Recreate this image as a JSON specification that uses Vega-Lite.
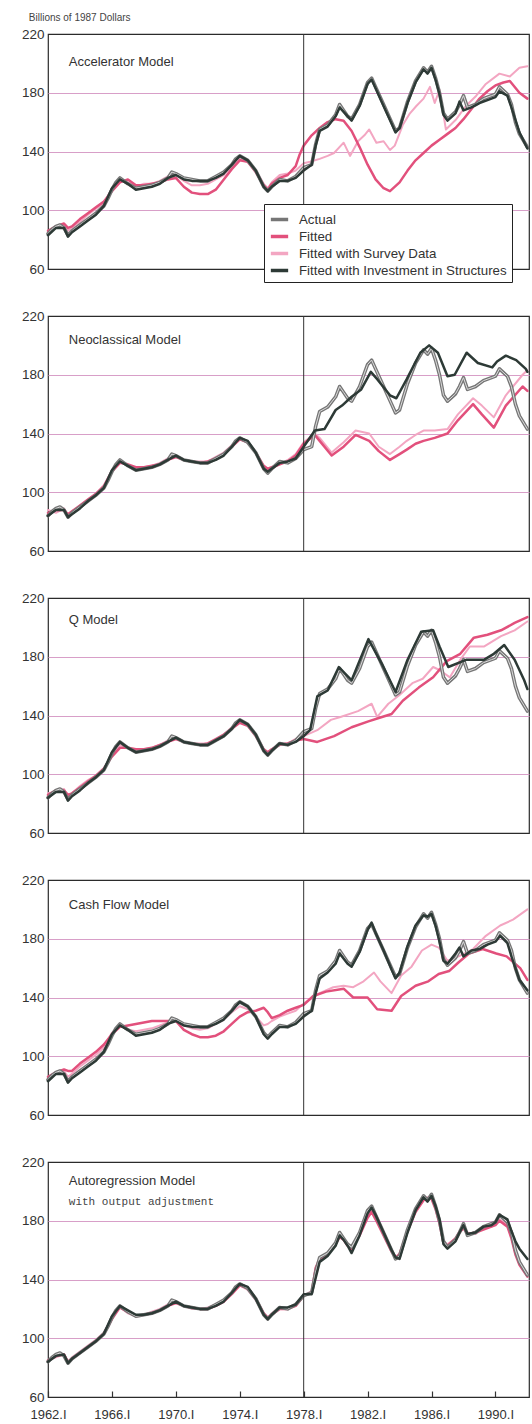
{
"$schema": "https://vega.github.io/schema/vega-lite/v6.json",
"padding": {"left": 20, "top": 12, "right": 0, "bottom": 0},
"background": "white",
"spacing": 47,
"bounds": "flush",
"config": {
 "font": "Liberation Sans",
 "view": {"stroke": "#2b2b2b", "strokeWidth": 1.2},
 "axisY": {"grid": true, "gridColor": "#d89fc8", "gridWidth": 1.2, "domain": false, "ticks": false, "labelFontSize": 13.5, "labelColor": "#333", "labelPadding": 4},
 "legend": {"orient": "none", "legendX": 216, "legendY": 170, "strokeColor": "#222", "fillColor": "white", "padding": 5, "symbolType": "stroke", "symbolSize": 300, "symbolStrokeWidth": 3.5, "labelFont": "Liberation Sans", "labelFontSize": 13.3, "labelColor": "#333", "labelLimit": 0, "rowPadding": 0, "labelOffset": 9},
 "line": {"strokeJoin": "round", "strokeCap": "round"}
},
"datasets": {
"a": [{"t":1962,"v":84},{"t":1962.25,"v":87},{"t":1962.5,"v":89},{"t":1962.75,"v":90},{"t":1963,"v":88},{"t":1963.25,"v":83},{"t":1963.5,"v":86},{"t":1964,"v":90},{"t":1964.5,"v":94},{"t":1965,"v":98},{"t":1965.5,"v":103},{"t":1965.75,"v":108},{"t":1966,"v":114},{"t":1966.25,"v":119},{"t":1966.5,"v":122},{"t":1966.75,"v":120},{"t":1967,"v":118},{"t":1967.5,"v":115},{"t":1968,"v":116},{"t":1968.5,"v":117},{"t":1969,"v":119},{"t":1969.5,"v":122},{"t":1969.75,"v":126},{"t":1970,"v":125},{"t":1970.5,"v":122},{"t":1971,"v":121},{"t":1971.5,"v":120},{"t":1972,"v":120},{"t":1972.5,"v":123},{"t":1973,"v":126},{"t":1973.5,"v":131},{"t":1973.75,"v":135},{"t":1974,"v":137},{"t":1974.5,"v":134},{"t":1975,"v":127},{"t":1975.5,"v":116},{"t":1975.75,"v":113},{"t":1976,"v":116},{"t":1976.5,"v":121},{"t":1977,"v":120},{"t":1977.5,"v":123},{"t":1978,"v":129},{"t":1978.5,"v":131},{"t":1978.75,"v":145},{"t":1979,"v":155},{"t":1979.5,"v":158},{"t":1980,"v":165},{"t":1980.25,"v":172},{"t":1980.5,"v":168},{"t":1980.75,"v":164},{"t":1981,"v":162},{"t":1981.5,"v":172},{"t":1982,"v":187},{"t":1982.25,"v":190},{"t":1982.5,"v":184},{"t":1983,"v":172},{"t":1983.5,"v":160},{"t":1983.75,"v":154},{"t":1984,"v":156},{"t":1984.5,"v":174},{"t":1985,"v":188},{"t":1985.5,"v":197},{"t":1985.75,"v":194},{"t":1986,"v":198},{"t":1986.25,"v":190},{"t":1986.5,"v":180},{"t":1986.75,"v":166},{"t":1987,"v":162},{"t":1987.5,"v":167},{"t":1987.75,"v":172},{"t":1988,"v":178},{"t":1988.25,"v":170},{"t":1988.75,"v":172},{"t":1989.25,"v":176},{"t":1989.75,"v":178},{"t":1990,"v":179},{"t":1990.25,"v":184},{"t":1990.75,"v":179},{"t":1991,"v":172},{"t":1991.25,"v":160},{"t":1991.5,"v":152},{"t":1992,"v":143}],
"f1": [{"t":1962,"v":86},{"t":1962.5,"v":89},{"t":1963,"v":91},{"t":1963.25,"v":88},{"t":1963.5,"v":89},{"t":1964,"v":94},{"t":1964.5,"v":98},{"t":1965,"v":102},{"t":1965.5,"v":106},{"t":1966,"v":113},{"t":1966.5,"v":119},{"t":1967,"v":121},{"t":1967.5,"v":117},{"t":1968,"v":117},{"t":1968.5,"v":118},{"t":1969,"v":119},{"t":1969.5,"v":121},{"t":1970,"v":122},{"t":1970.5,"v":116},{"t":1971,"v":112},{"t":1971.5,"v":111},{"t":1972,"v":111},{"t":1972.5,"v":114},{"t":1973,"v":121},{"t":1973.5,"v":128},{"t":1974,"v":134},{"t":1974.5,"v":133},{"t":1975,"v":126},{"t":1975.5,"v":117},{"t":1975.75,"v":114},{"t":1976,"v":118},{"t":1976.5,"v":122},{"t":1977,"v":124},{"t":1977.5,"v":130},{"t":1977.75,"v":138},{"t":1978,"v":144},{"t":1978.5,"v":151},{"t":1979,"v":156},{"t":1979.5,"v":160},{"t":1980,"v":162},{"t":1980.5,"v":161},{"t":1981,"v":154},{"t":1981.5,"v":143},{"t":1982,"v":131},{"t":1982.5,"v":121},{"t":1983,"v":115},{"t":1983.4,"v":113},{"t":1984,"v":119},{"t":1984.5,"v":127},{"t":1985,"v":134},{"t":1985.5,"v":139},{"t":1986,"v":144},{"t":1986.5,"v":148},{"t":1987,"v":152},{"t":1987.5,"v":156},{"t":1988,"v":162},{"t":1988.5,"v":169},{"t":1989,"v":176},{"t":1989.5,"v":181},{"t":1990,"v":185},{"t":1990.5,"v":187},{"t":1990.9,"v":188},{"t":1991.5,"v":180},{"t":1992,"v":176}],
"s1": [{"t":1962,"v":85},{"t":1962.5,"v":88},{"t":1963,"v":90},{"t":1963.25,"v":86},{"t":1963.5,"v":88},{"t":1964,"v":92},{"t":1964.5,"v":97},{"t":1965,"v":101},{"t":1965.5,"v":105},{"t":1966,"v":115},{"t":1966.5,"v":121},{"t":1967,"v":119},{"t":1967.5,"v":116},{"t":1968,"v":118},{"t":1968.5,"v":118},{"t":1969,"v":120},{"t":1969.5,"v":123},{"t":1970,"v":124},{"t":1970.5,"v":120},{"t":1971,"v":117},{"t":1971.5,"v":117},{"t":1972,"v":118},{"t":1972.5,"v":121},{"t":1973,"v":124},{"t":1973.5,"v":130},{"t":1974,"v":135},{"t":1974.5,"v":133},{"t":1975,"v":127},{"t":1975.5,"v":118},{"t":1975.75,"v":115},{"t":1976,"v":119},{"t":1976.5,"v":124},{"t":1977,"v":125},{"t":1977.5,"v":127},{"t":1978,"v":132},{"t":1978.4,"v":133},{"t":1979,"v":135},{"t":1979.5,"v":137},{"t":1979.9,"v":139},{"t":1980.5,"v":146},{"t":1980.9,"v":137},{"t":1981.4,"v":147},{"t":1981.8,"v":151},{"t":1982.1,"v":155},{"t":1982.55,"v":146},{"t":1983,"v":147},{"t":1983.4,"v":141},{"t":1983.7,"v":144},{"t":1984.2,"v":158},{"t":1984.65,"v":166},{"t":1985.05,"v":171},{"t":1985.5,"v":176},{"t":1985.9,"v":184},{"t":1986.2,"v":173},{"t":1986.5,"v":182},{"t":1986.9,"v":155},{"t":1987.55,"v":162},{"t":1988.15,"v":171},{"t":1988.8,"v":178},{"t":1989.4,"v":186},{"t":1990.25,"v":193},{"t":1990.9,"v":191},{"t":1991.5,"v":197},{"t":1992,"v":198}],
"i1": [{"t":1962,"v":83},{"t":1962.5,"v":88},{"t":1963,"v":88},{"t":1963.25,"v":82},{"t":1963.5,"v":85},{"t":1964,"v":89},{"t":1964.5,"v":93},{"t":1965,"v":97},{"t":1965.5,"v":103},{"t":1966,"v":115},{"t":1966.5,"v":121},{"t":1967,"v":118},{"t":1967.5,"v":114},{"t":1968,"v":115},{"t":1968.5,"v":116},{"t":1969,"v":118},{"t":1969.5,"v":122},{"t":1970,"v":124},{"t":1970.5,"v":121},{"t":1971,"v":120},{"t":1971.5,"v":120},{"t":1972,"v":120},{"t":1972.5,"v":122},{"t":1973,"v":125},{"t":1973.5,"v":131},{"t":1974,"v":137},{"t":1974.5,"v":134},{"t":1975,"v":127},{"t":1975.5,"v":116},{"t":1975.75,"v":113},{"t":1976,"v":116},{"t":1976.5,"v":120},{"t":1977,"v":120},{"t":1977.5,"v":122},{"t":1978,"v":127},{"t":1978.5,"v":131},{"t":1978.75,"v":144},{"t":1979,"v":154},{"t":1979.5,"v":157},{"t":1980,"v":164},{"t":1980.25,"v":170},{"t":1980.5,"v":167},{"t":1981,"v":161},{"t":1981.5,"v":171},{"t":1982,"v":186},{"t":1982.25,"v":189},{"t":1982.5,"v":183},{"t":1983,"v":171},{"t":1983.5,"v":159},{"t":1983.75,"v":153},{"t":1984,"v":156},{"t":1984.5,"v":173},{"t":1985,"v":187},{"t":1985.5,"v":196},{"t":1985.75,"v":193},{"t":1986,"v":197},{"t":1986.25,"v":189},{"t":1986.5,"v":179},{"t":1986.75,"v":165},{"t":1987,"v":161},{"t":1987.5,"v":166},{"t":1987.75,"v":174},{"t":1988,"v":168},{"t":1988.5,"v":170},{"t":1989,"v":173},{"t":1989.5,"v":175},{"t":1990,"v":177},{"t":1990.25,"v":181},{"t":1990.75,"v":178},{"t":1991,"v":170},{"t":1991.5,"v":153},{"t":1992,"v":142}],
"f2": [{"t":1962,"v":86},{"t":1962.5,"v":88},{"t":1963,"v":88},{"t":1963.25,"v":85},{"t":1963.5,"v":87},{"t":1964,"v":91},{"t":1964.5,"v":95},{"t":1965,"v":99},{"t":1965.5,"v":104},{"t":1966,"v":114},{"t":1966.5,"v":120},{"t":1967,"v":119},{"t":1967.5,"v":117},{"t":1968,"v":117},{"t":1968.5,"v":118},{"t":1969,"v":119},{"t":1969.5,"v":122},{"t":1970,"v":124},{"t":1970.5,"v":122},{"t":1971,"v":121},{"t":1971.5,"v":120},{"t":1972,"v":121},{"t":1972.5,"v":123},{"t":1973,"v":126},{"t":1973.5,"v":131},{"t":1974,"v":136},{"t":1974.5,"v":134},{"t":1975,"v":127},{"t":1975.5,"v":118},{"t":1975.75,"v":116},{"t":1976,"v":117},{"t":1976.5,"v":119},{"t":1977,"v":121},{"t":1977.5,"v":125},{"t":1978,"v":133},{"t":1978.7,"v":139},{"t":1979,"v":135},{"t":1979.75,"v":125},{"t":1980.5,"v":131},{"t":1981.25,"v":139},{"t":1982.1,"v":135},{"t":1982.7,"v":128},{"t":1983.4,"v":122},{"t":1984,"v":126},{"t":1984.45,"v":129},{"t":1985,"v":133},{"t":1985.5,"v":135},{"t":1986.2,"v":137},{"t":1987,"v":140},{"t":1987.65,"v":149},{"t":1988.6,"v":160},{"t":1989.15,"v":153},{"t":1989.9,"v":144},{"t":1990.65,"v":159},{"t":1991.7,"v":172},{"t":1992,"v":169}],
"s2": [{"t":1962,"v":88},{"t":1962.5,"v":86},{"t":1963,"v":89},{"t":1963.25,"v":84},{"t":1963.5,"v":86},{"t":1964,"v":91},{"t":1964.5,"v":95},{"t":1965,"v":99},{"t":1965.5,"v":105},{"t":1966,"v":115},{"t":1966.5,"v":121},{"t":1967,"v":118},{"t":1967.5,"v":116},{"t":1968,"v":117},{"t":1968.5,"v":118},{"t":1969,"v":120},{"t":1969.5,"v":123},{"t":1970,"v":125},{"t":1970.5,"v":122},{"t":1971,"v":121},{"t":1971.5,"v":121},{"t":1972,"v":121},{"t":1972.5,"v":124},{"t":1973,"v":127},{"t":1973.5,"v":132},{"t":1974,"v":137},{"t":1974.5,"v":134},{"t":1975,"v":127},{"t":1975.5,"v":117},{"t":1975.75,"v":115},{"t":1976,"v":116},{"t":1976.5,"v":119},{"t":1977,"v":122},{"t":1977.5,"v":126},{"t":1978,"v":134},{"t":1978.7,"v":140},{"t":1979,"v":137},{"t":1979.75,"v":127},{"t":1980.5,"v":134},{"t":1981.25,"v":142},{"t":1982.1,"v":140},{"t":1982.7,"v":131},{"t":1983.4,"v":126},{"t":1984,"v":131},{"t":1984.45,"v":135},{"t":1985,"v":139},{"t":1985.5,"v":142},{"t":1986.2,"v":142},{"t":1987,"v":143},{"t":1987.65,"v":153},{"t":1988.6,"v":164},{"t":1989.15,"v":159},{"t":1989.9,"v":151},{"t":1990.65,"v":166},{"t":1991.7,"v":180},{"t":1992,"v":183}],
"i2": [{"t":1962,"v":84},{"t":1962.5,"v":88},{"t":1963,"v":88},{"t":1963.25,"v":83},{"t":1963.5,"v":85},{"t":1964,"v":89},{"t":1964.5,"v":94},{"t":1965,"v":98},{"t":1965.5,"v":103},{"t":1966,"v":115},{"t":1966.5,"v":121},{"t":1967,"v":118},{"t":1967.5,"v":115},{"t":1968,"v":116},{"t":1968.5,"v":117},{"t":1969,"v":119},{"t":1969.5,"v":122},{"t":1970,"v":125},{"t":1970.5,"v":122},{"t":1971,"v":121},{"t":1971.5,"v":120},{"t":1972,"v":120},{"t":1972.5,"v":122},{"t":1973,"v":125},{"t":1973.5,"v":131},{"t":1974,"v":137},{"t":1974.5,"v":135},{"t":1975,"v":127},{"t":1975.5,"v":116},{"t":1975.75,"v":114},{"t":1976,"v":116},{"t":1976.5,"v":120},{"t":1977,"v":121},{"t":1977.5,"v":123},{"t":1978,"v":131},{"t":1978.7,"v":142},{"t":1979.3,"v":143},{"t":1980,"v":156},{"t":1980.4,"v":159},{"t":1981,"v":165},{"t":1981.6,"v":170},{"t":1982.2,"v":182},{"t":1982.6,"v":177},{"t":1983.4,"v":166},{"t":1983.8,"v":164},{"t":1984.45,"v":177},{"t":1985.3,"v":195},{"t":1985.85,"v":200},{"t":1986.4,"v":195},{"t":1987,"v":179},{"t":1987.45,"v":180},{"t":1988.2,"v":195},{"t":1988.9,"v":188},{"t":1989.8,"v":185},{"t":1990.1,"v":189},{"t":1990.65,"v":193},{"t":1991.3,"v":190},{"t":1991.9,"v":184},{"t":1992,"v":182}],
"f3": [{"t":1962,"v":86},{"t":1962.5,"v":89},{"t":1963,"v":89},{"t":1963.25,"v":86},{"t":1963.5,"v":87},{"t":1964,"v":91},{"t":1964.5,"v":95},{"t":1965,"v":99},{"t":1965.5,"v":104},{"t":1966,"v":112},{"t":1966.5,"v":118},{"t":1967,"v":118},{"t":1967.5,"v":117},{"t":1968,"v":117},{"t":1968.5,"v":118},{"t":1969,"v":120},{"t":1969.5,"v":122},{"t":1970,"v":124},{"t":1970.5,"v":122},{"t":1971,"v":121},{"t":1971.5,"v":120},{"t":1972,"v":121},{"t":1972.5,"v":124},{"t":1973,"v":127},{"t":1973.5,"v":131},{"t":1974,"v":135},{"t":1974.5,"v":133},{"t":1975,"v":126},{"t":1975.5,"v":117},{"t":1975.75,"v":115},{"t":1976,"v":117},{"t":1976.5,"v":120},{"t":1977,"v":121},{"t":1977.5,"v":123},{"t":1978,"v":124},{"t":1978.85,"v":122},{"t":1979.9,"v":126},{"t":1981,"v":132},{"t":1982.05,"v":136},{"t":1982.9,"v":139},{"t":1983.5,"v":141},{"t":1984.2,"v":150},{"t":1985.2,"v":159},{"t":1986.1,"v":166},{"t":1986.95,"v":177},{"t":1987.8,"v":182},{"t":1988.65,"v":193},{"t":1989.5,"v":195},{"t":1990.35,"v":198},{"t":1991.2,"v":203},{"t":1992,"v":207}],
"s3": [{"t":1962,"v":87},{"t":1962.5,"v":88},{"t":1963,"v":90},{"t":1963.25,"v":85},{"t":1963.5,"v":87},{"t":1964,"v":92},{"t":1964.5,"v":96},{"t":1965,"v":99},{"t":1965.5,"v":104},{"t":1966,"v":113},{"t":1966.5,"v":120},{"t":1967,"v":118},{"t":1967.5,"v":116},{"t":1968,"v":117},{"t":1968.5,"v":118},{"t":1969,"v":120},{"t":1969.5,"v":123},{"t":1970,"v":125},{"t":1970.5,"v":122},{"t":1971,"v":121},{"t":1971.5,"v":121},{"t":1972,"v":121},{"t":1972.5,"v":123},{"t":1973,"v":127},{"t":1973.5,"v":132},{"t":1974,"v":136},{"t":1974.5,"v":134},{"t":1975,"v":127},{"t":1975.5,"v":117},{"t":1975.75,"v":115},{"t":1976,"v":117},{"t":1976.5,"v":121},{"t":1977,"v":121},{"t":1977.5,"v":124},{"t":1978,"v":126},{"t":1978.85,"v":130},{"t":1979.7,"v":137},{"t":1980.3,"v":139},{"t":1981.4,"v":143},{"t":1982.25,"v":148},{"t":1982.6,"v":139},{"t":1983.3,"v":148},{"t":1984,"v":154},{"t":1984.8,"v":162},{"t":1985.45,"v":165},{"t":1986.1,"v":173},{"t":1986.5,"v":171},{"t":1987.15,"v":166},{"t":1987.8,"v":178},{"t":1988.4,"v":187},{"t":1989.3,"v":187},{"t":1990.35,"v":194},{"t":1991.2,"v":198},{"t":1992,"v":204}],
"i3": [{"t":1962,"v":84},{"t":1962.5,"v":88},{"t":1963,"v":88},{"t":1963.25,"v":82},{"t":1963.5,"v":85},{"t":1964,"v":89},{"t":1964.5,"v":94},{"t":1965,"v":98},{"t":1965.5,"v":103},{"t":1966,"v":115},{"t":1966.5,"v":122},{"t":1967,"v":118},{"t":1967.5,"v":115},{"t":1968,"v":116},{"t":1968.5,"v":117},{"t":1969,"v":119},{"t":1969.5,"v":122},{"t":1970,"v":125},{"t":1970.5,"v":122},{"t":1971,"v":121},{"t":1971.5,"v":120},{"t":1972,"v":120},{"t":1972.5,"v":123},{"t":1973,"v":126},{"t":1973.5,"v":131},{"t":1974,"v":137},{"t":1974.5,"v":134},{"t":1975,"v":127},{"t":1975.5,"v":116},{"t":1975.75,"v":113},{"t":1976,"v":116},{"t":1976.5,"v":121},{"t":1977,"v":120},{"t":1977.5,"v":122},{"t":1978,"v":126},{"t":1978.4,"v":130},{"t":1978.85,"v":153},{"t":1979.5,"v":157},{"t":1980.2,"v":173},{"t":1981,"v":164},{"t":1982.05,"v":192},{"t":1982.9,"v":175},{"t":1983.75,"v":156},{"t":1984.5,"v":178},{"t":1985.35,"v":197},{"t":1986.1,"v":198},{"t":1986.5,"v":187},{"t":1987.05,"v":173},{"t":1988.2,"v":178},{"t":1989.3,"v":178},{"t":1989.9,"v":182},{"t":1990.55,"v":188},{"t":1991.2,"v":178},{"t":1991.8,"v":164},{"t":1992,"v":158}],
"f4": [{"t":1962,"v":86},{"t":1962.5,"v":89},{"t":1963,"v":91},{"t":1963.25,"v":90},{"t":1963.5,"v":90},{"t":1964,"v":95},{"t":1964.5,"v":99},{"t":1965,"v":103},{"t":1965.5,"v":108},{"t":1966,"v":115},{"t":1966.5,"v":120},{"t":1967,"v":121},{"t":1967.5,"v":122},{"t":1968,"v":123},{"t":1968.5,"v":124},{"t":1969,"v":124},{"t":1969.5,"v":124},{"t":1970,"v":124},{"t":1970.5,"v":118},{"t":1971,"v":115},{"t":1971.5,"v":113},{"t":1972,"v":113},{"t":1972.5,"v":114},{"t":1973,"v":117},{"t":1973.5,"v":122},{"t":1974,"v":127},{"t":1974.5,"v":130},{"t":1975,"v":131},{"t":1975.5,"v":133},{"t":1975.75,"v":130},{"t":1976,"v":126},{"t":1976.5,"v":128},{"t":1977,"v":131},{"t":1977.5,"v":133},{"t":1978,"v":135},{"t":1978.6,"v":141},{"t":1979.4,"v":144},{"t":1980.5,"v":146},{"t":1981.1,"v":140},{"t":1982,"v":140},{"t":1982.6,"v":132},{"t":1983.5,"v":131},{"t":1984.1,"v":141},{"t":1985,"v":148},{"t":1985.8,"v":151},{"t":1986.45,"v":156},{"t":1987.1,"v":158},{"t":1987.7,"v":164},{"t":1988.35,"v":170},{"t":1989.2,"v":173},{"t":1990.05,"v":170},{"t":1990.7,"v":168},{"t":1991.55,"v":160},{"t":1992,"v":152}],
"s4": [{"t":1962,"v":85},{"t":1962.5,"v":88},{"t":1963,"v":90},{"t":1963.25,"v":86},{"t":1963.5,"v":88},{"t":1964,"v":93},{"t":1964.5,"v":97},{"t":1965,"v":101},{"t":1965.5,"v":106},{"t":1966,"v":116},{"t":1966.5,"v":121},{"t":1967,"v":118},{"t":1967.5,"v":117},{"t":1968,"v":118},{"t":1968.5,"v":119},{"t":1969,"v":121},{"t":1969.5,"v":123},{"t":1970,"v":125},{"t":1970.5,"v":121},{"t":1971,"v":119},{"t":1971.5,"v":118},{"t":1972,"v":119},{"t":1972.5,"v":122},{"t":1973,"v":125},{"t":1973.5,"v":130},{"t":1974,"v":134},{"t":1974.5,"v":132},{"t":1975,"v":127},{"t":1975.5,"v":121},{"t":1975.75,"v":122},{"t":1976,"v":124},{"t":1976.5,"v":127},{"t":1977,"v":129},{"t":1977.5,"v":131},{"t":1978,"v":136},{"t":1979,"v":143},{"t":1979.85,"v":147},{"t":1980.5,"v":148},{"t":1981.1,"v":147},{"t":1981.75,"v":151},{"t":1982.4,"v":157},{"t":1982.8,"v":151},{"t":1983.5,"v":143},{"t":1984.1,"v":155},{"t":1984.75,"v":161},{"t":1985.4,"v":172},{"t":1986,"v":176},{"t":1986.45,"v":174},{"t":1987,"v":165},{"t":1987.7,"v":168},{"t":1988.6,"v":173},{"t":1989.4,"v":182},{"t":1990.3,"v":189},{"t":1991.1,"v":193},{"t":1992,"v":200}],
"i4": [{"t":1962,"v":83},{"t":1962.5,"v":88},{"t":1963,"v":88},{"t":1963.25,"v":82},{"t":1963.5,"v":85},{"t":1964,"v":89},{"t":1964.5,"v":93},{"t":1965,"v":97},{"t":1965.5,"v":103},{"t":1966,"v":115},{"t":1966.5,"v":121},{"t":1967,"v":118},{"t":1967.5,"v":114},{"t":1968,"v":115},{"t":1968.5,"v":116},{"t":1969,"v":118},{"t":1969.5,"v":122},{"t":1970,"v":124},{"t":1970.5,"v":121},{"t":1971,"v":120},{"t":1971.5,"v":120},{"t":1972,"v":120},{"t":1972.5,"v":122},{"t":1973,"v":125},{"t":1973.5,"v":131},{"t":1974,"v":137},{"t":1974.5,"v":134},{"t":1975,"v":127},{"t":1975.5,"v":115},{"t":1975.75,"v":112},{"t":1976,"v":115},{"t":1976.5,"v":120},{"t":1977,"v":120},{"t":1977.5,"v":122},{"t":1978,"v":127},{"t":1978.5,"v":131},{"t":1978.75,"v":143},{"t":1979,"v":153},{"t":1979.5,"v":157},{"t":1980,"v":163},{"t":1980.25,"v":170},{"t":1980.75,"v":163},{"t":1981,"v":161},{"t":1981.5,"v":171},{"t":1982,"v":186},{"t":1982.25,"v":191},{"t":1982.5,"v":184},{"t":1983,"v":172},{"t":1983.5,"v":159},{"t":1983.75,"v":153},{"t":1984,"v":157},{"t":1984.5,"v":175},{"t":1985,"v":189},{"t":1985.5,"v":196},{"t":1985.75,"v":195},{"t":1986,"v":197},{"t":1986.25,"v":189},{"t":1986.5,"v":178},{"t":1986.75,"v":165},{"t":1987,"v":163},{"t":1987.5,"v":170},{"t":1987.75,"v":174},{"t":1988,"v":168},{"t":1988.5,"v":172},{"t":1989,"v":173},{"t":1989.5,"v":176},{"t":1990,"v":178},{"t":1990.3,"v":182},{"t":1990.75,"v":177},{"t":1991,"v":168},{"t":1991.5,"v":152},{"t":1992,"v":145}],
"f5": [{"t":1962,"v":85},{"t":1962.5,"v":88},{"t":1963,"v":89},{"t":1963.25,"v":84},{"t":1963.5,"v":86},{"t":1964,"v":90},{"t":1964.5,"v":94},{"t":1965,"v":98},{"t":1965.5,"v":103},{"t":1966,"v":113},{"t":1966.5,"v":121},{"t":1967,"v":118},{"t":1967.5,"v":115},{"t":1968,"v":116},{"t":1968.5,"v":117},{"t":1969,"v":119},{"t":1969.5,"v":122},{"t":1970,"v":124},{"t":1970.5,"v":122},{"t":1971,"v":121},{"t":1971.5,"v":120},{"t":1972,"v":120},{"t":1972.5,"v":122},{"t":1973,"v":125},{"t":1973.5,"v":130},{"t":1974,"v":136},{"t":1974.5,"v":134},{"t":1975,"v":127},{"t":1975.5,"v":117},{"t":1975.75,"v":114},{"t":1976,"v":116},{"t":1976.5,"v":120},{"t":1977,"v":120},{"t":1977.5,"v":122},{"t":1978,"v":129},{"t":1978.5,"v":131},{"t":1978.75,"v":148},{"t":1979,"v":154},{"t":1979.5,"v":157},{"t":1980,"v":164},{"t":1980.25,"v":169},{"t":1980.5,"v":167},{"t":1980.75,"v":163},{"t":1981,"v":161},{"t":1981.5,"v":170},{"t":1982,"v":182},{"t":1982.25,"v":186},{"t":1982.5,"v":181},{"t":1983,"v":170},{"t":1983.5,"v":159},{"t":1983.75,"v":155},{"t":1984,"v":157},{"t":1984.5,"v":173},{"t":1985,"v":186},{"t":1985.5,"v":194},{"t":1985.75,"v":195},{"t":1986,"v":195},{"t":1986.25,"v":188},{"t":1986.5,"v":178},{"t":1986.75,"v":165},{"t":1987,"v":163},{"t":1987.5,"v":168},{"t":1987.75,"v":172},{"t":1988,"v":175},{"t":1988.25,"v":171},{"t":1988.75,"v":172},{"t":1989.25,"v":174},{"t":1989.75,"v":176},{"t":1990,"v":177},{"t":1990.25,"v":180},{"t":1990.75,"v":176},{"t":1991,"v":168},{"t":1991.25,"v":157},{"t":1991.5,"v":150},{"t":1992,"v":142}],
"s5": [{"t":1962,"v":85},{"t":1962.5,"v":87},{"t":1963,"v":89},{"t":1963.25,"v":84},{"t":1963.5,"v":87},{"t":1964,"v":91},{"t":1964.5,"v":95},{"t":1965,"v":99},{"t":1965.5,"v":104},{"t":1966,"v":114},{"t":1966.5,"v":121},{"t":1967,"v":117},{"t":1967.5,"v":115},{"t":1968,"v":116},{"t":1968.5,"v":118},{"t":1969,"v":120},{"t":1969.5,"v":123},{"t":1970,"v":125},{"t":1970.5,"v":122},{"t":1971,"v":120},{"t":1971.5,"v":120},{"t":1972,"v":121},{"t":1972.5,"v":123},{"t":1973,"v":126},{"t":1973.5,"v":131},{"t":1974,"v":136},{"t":1974.5,"v":133},{"t":1975,"v":126},{"t":1975.5,"v":117},{"t":1975.75,"v":114},{"t":1976,"v":117},{"t":1976.5,"v":121},{"t":1977,"v":120},{"t":1977.5,"v":123},{"t":1978,"v":129},{"t":1978.5,"v":132},{"t":1978.75,"v":147},{"t":1979,"v":155},{"t":1979.5,"v":158},{"t":1980,"v":165},{"t":1980.25,"v":170},{"t":1980.5,"v":168},{"t":1980.75,"v":164},{"t":1981,"v":162},{"t":1981.5,"v":171},{"t":1982,"v":184},{"t":1982.25,"v":188},{"t":1982.5,"v":182},{"t":1983,"v":171},{"t":1983.5,"v":160},{"t":1983.75,"v":155},{"t":1984,"v":158},{"t":1984.5,"v":174},{"t":1985,"v":187},{"t":1985.5,"v":195},{"t":1985.75,"v":196},{"t":1986,"v":195},{"t":1986.25,"v":189},{"t":1986.5,"v":179},{"t":1986.75,"v":166},{"t":1987,"v":164},{"t":1987.5,"v":168},{"t":1987.75,"v":173},{"t":1988,"v":175},{"t":1988.25,"v":172},{"t":1988.75,"v":171},{"t":1989.25,"v":175},{"t":1989.75,"v":176},{"t":1990,"v":178},{"t":1990.25,"v":181},{"t":1990.75,"v":177},{"t":1991,"v":169},{"t":1991.25,"v":158},{"t":1991.5,"v":151},{"t":1992,"v":144}],
"i5": [{"t":1962,"v":84},{"t":1962.5,"v":88},{"t":1963,"v":89},{"t":1963.25,"v":83},{"t":1963.5,"v":86},{"t":1964,"v":90},{"t":1964.5,"v":94},{"t":1965,"v":98},{"t":1965.5,"v":103},{"t":1966,"v":115},{"t":1966.5,"v":122},{"t":1967,"v":119},{"t":1967.5,"v":116},{"t":1968,"v":116},{"t":1968.5,"v":117},{"t":1969,"v":119},{"t":1969.5,"v":122},{"t":1970,"v":125},{"t":1970.5,"v":122},{"t":1971,"v":121},{"t":1971.5,"v":120},{"t":1972,"v":120},{"t":1972.5,"v":122},{"t":1973,"v":125},{"t":1973.5,"v":131},{"t":1974,"v":137},{"t":1974.5,"v":135},{"t":1975,"v":127},{"t":1975.5,"v":116},{"t":1975.75,"v":113},{"t":1976,"v":116},{"t":1976.5,"v":121},{"t":1977,"v":121},{"t":1977.5,"v":123},{"t":1978,"v":130},{"t":1978.5,"v":130},{"t":1978.75,"v":141},{"t":1979,"v":152},{"t":1979.5,"v":156},{"t":1980,"v":163},{"t":1980.25,"v":170},{"t":1980.5,"v":167},{"t":1980.75,"v":163},{"t":1981,"v":158},{"t":1981.5,"v":170},{"t":1982,"v":185},{"t":1982.25,"v":189},{"t":1982.5,"v":184},{"t":1983,"v":172},{"t":1983.5,"v":160},{"t":1983.75,"v":155},{"t":1984,"v":154},{"t":1984.5,"v":172},{"t":1985,"v":187},{"t":1985.5,"v":196},{"t":1985.75,"v":193},{"t":1986,"v":197},{"t":1986.25,"v":190},{"t":1986.5,"v":181},{"t":1986.75,"v":164},{"t":1987,"v":161},{"t":1987.5,"v":166},{"t":1987.75,"v":172},{"t":1988,"v":177},{"t":1988.25,"v":171},{"t":1988.75,"v":172},{"t":1989.25,"v":176},{"t":1989.75,"v":177},{"t":1990,"v":179},{"t":1990.25,"v":184},{"t":1990.75,"v":181},{"t":1991,"v":173},{"t":1991.25,"v":166},{"t":1991.5,"v":161},{"t":1992,"v":154}]
},
"vconcat": [
{"width": 481, "height": 235, "layer": [
 {"data": {"name": "s1"}, "mark": {"type": "line", "strokeWidth": 2}, "encoding": {"x": {"field": "t", "type": "quantitative", "scale": {"domain": [1962, 1992.1], "nice": false, "zero": false}, "axis": null}, "y": {"field": "v", "type": "quantitative", "scale": {"domain": [60, 220], "nice": false, "zero": false}, "axis": {"title": null, "values": [60,100,140,180,220], "gridOpacity": {"condition": {"test": "datum.value === 60 || datum.value === 220", "value": 0}, "value": 1}}}, "color": {"datum": "Fitted with Survey Data", "type": "nominal", "scale": {"domain": ["Actual", "Fitted", "Fitted with Survey Data", "Fitted with Investment in Structures"], "range": ["#767676", "#e2507c", "#f3a6c2", "#2d3a36"]}, "legend": {"title": null}}}},
 {"data": {"name": "f1"}, "mark": {"type": "line", "strokeWidth": 2.5}, "encoding": {"x": {"field": "t", "type": "quantitative", "axis": null}, "y": {"field": "v", "type": "quantitative", "axis": {"title": null}}, "color": {"datum": "Fitted", "type": "nominal", "legend": {"title": null}}}},
 {"data": {"name": "a"}, "mark": {"type": "line", "strokeWidth": 3.5}, "encoding": {"x": {"field": "t", "type": "quantitative", "axis": null}, "y": {"field": "v", "type": "quantitative", "axis": {"title": null}}, "color": {"datum": "Actual", "type": "nominal", "legend": {"title": null}}}},
 {"data": {"name": "a"}, "mark": {"type": "line", "strokeWidth": 1, "color": "#dcdcdc"}, "encoding": {"x": {"field": "t", "type": "quantitative", "axis": null}, "y": {"field": "v", "type": "quantitative", "axis": {"title": null}}}},
 {"data": {"name": "i1"}, "mark": {"type": "line", "strokeWidth": 2.5}, "encoding": {"x": {"field": "t", "type": "quantitative", "axis": null}, "y": {"field": "v", "type": "quantitative", "axis": {"title": null}}, "color": {"datum": "Fitted with Investment in Structures", "type": "nominal", "legend": {"title": null}}}},
 {"data": {"values": [{}]}, "mark": {"type": "rule", "color": "#333", "strokeWidth": 1}, "encoding": {"x": {"datum": 1978, "type": "quantitative", "axis": null}}},
 {"data": {"values": [{}]}, "mark": {"type": "text", "align": "left", "baseline": "middle", "fontSize": 13, "color": "#333"}, "encoding": {"x": {"datum": 1963.3, "type": "quantitative", "axis": null}, "y": {"datum": 201, "type": "quantitative", "axis": {"title": null}}, "text": {"value": "Accelerator Model"}}},
 {"data": {"values": [{}]}, "mark": {"type": "text", "align": "left", "baseline": "middle", "fontSize": 10, "color": "#444"}, "encoding": {"x": {"datum": 1960.8, "type": "quantitative", "axis": null}, "y": {"datum": 231, "type": "quantitative", "axis": {"title": null}}, "text": {"value": "Billions of 1987 Dollars"}}}
]},
{"width": 481, "height": 235, "layer": [
 {"data": {"name": "s2"}, "mark": {"type": "line", "strokeWidth": 2}, "encoding": {"x": {"field": "t", "type": "quantitative", "scale": {"domain": [1962, 1992.1], "nice": false, "zero": false}, "axis": null}, "y": {"field": "v", "type": "quantitative", "scale": {"domain": [60, 220], "nice": false, "zero": false}, "axis": {"title": null, "values": [60,100,140,180,220], "gridOpacity": {"condition": {"test": "datum.value === 60 || datum.value === 220", "value": 0}, "value": 1}}}, "color": {"datum": "Fitted with Survey Data", "type": "nominal", "legend": {"title": null}}}},
 {"data": {"name": "f2"}, "mark": {"type": "line", "strokeWidth": 2.5}, "encoding": {"x": {"field": "t", "type": "quantitative", "axis": null}, "y": {"field": "v", "type": "quantitative", "axis": {"title": null}}, "color": {"datum": "Fitted", "type": "nominal", "legend": {"title": null}}}},
 {"data": {"name": "a"}, "mark": {"type": "line", "strokeWidth": 3.5}, "encoding": {"x": {"field": "t", "type": "quantitative", "axis": null}, "y": {"field": "v", "type": "quantitative", "axis": {"title": null}}, "color": {"datum": "Actual", "type": "nominal", "legend": {"title": null}}}},
 {"data": {"name": "a"}, "mark": {"type": "line", "strokeWidth": 1, "color": "#dcdcdc"}, "encoding": {"x": {"field": "t", "type": "quantitative", "axis": null}, "y": {"field": "v", "type": "quantitative", "axis": {"title": null}}}},
 {"data": {"name": "i2"}, "mark": {"type": "line", "strokeWidth": 2.5}, "encoding": {"x": {"field": "t", "type": "quantitative", "axis": null}, "y": {"field": "v", "type": "quantitative", "axis": {"title": null}}, "color": {"datum": "Fitted with Investment in Structures", "type": "nominal", "legend": {"title": null}}}},
 {"data": {"values": [{}]}, "mark": {"type": "rule", "color": "#333", "strokeWidth": 1}, "encoding": {"x": {"datum": 1978, "type": "quantitative", "axis": null}}},
 {"data": {"values": [{}]}, "mark": {"type": "text", "align": "left", "baseline": "middle", "fontSize": 13, "color": "#333"}, "encoding": {"x": {"datum": 1963.3, "type": "quantitative", "axis": null}, "y": {"datum": 204, "type": "quantitative", "axis": {"title": null}}, "text": {"value": "Neoclassical Model"}}}
]},
{"width": 481, "height": 235, "layer": [
 {"data": {"name": "s3"}, "mark": {"type": "line", "strokeWidth": 2}, "encoding": {"x": {"field": "t", "type": "quantitative", "scale": {"domain": [1962, 1992.1], "nice": false, "zero": false}, "axis": null}, "y": {"field": "v", "type": "quantitative", "scale": {"domain": [60, 220], "nice": false, "zero": false}, "axis": {"title": null, "values": [60,100,140,180,220], "gridOpacity": {"condition": {"test": "datum.value === 60 || datum.value === 220", "value": 0}, "value": 1}}}, "color": {"datum": "Fitted with Survey Data", "type": "nominal", "legend": {"title": null}}}},
 {"data": {"name": "f3"}, "mark": {"type": "line", "strokeWidth": 2.5}, "encoding": {"x": {"field": "t", "type": "quantitative", "axis": null}, "y": {"field": "v", "type": "quantitative", "axis": {"title": null}}, "color": {"datum": "Fitted", "type": "nominal", "legend": {"title": null}}}},
 {"data": {"name": "a"}, "mark": {"type": "line", "strokeWidth": 3.5}, "encoding": {"x": {"field": "t", "type": "quantitative", "axis": null}, "y": {"field": "v", "type": "quantitative", "axis": {"title": null}}, "color": {"datum": "Actual", "type": "nominal", "legend": {"title": null}}}},
 {"data": {"name": "a"}, "mark": {"type": "line", "strokeWidth": 1, "color": "#dcdcdc"}, "encoding": {"x": {"field": "t", "type": "quantitative", "axis": null}, "y": {"field": "v", "type": "quantitative", "axis": {"title": null}}}},
 {"data": {"name": "i3"}, "mark": {"type": "line", "strokeWidth": 2.5}, "encoding": {"x": {"field": "t", "type": "quantitative", "axis": null}, "y": {"field": "v", "type": "quantitative", "axis": {"title": null}}, "color": {"datum": "Fitted with Investment in Structures", "type": "nominal", "legend": {"title": null}}}},
 {"data": {"values": [{}]}, "mark": {"type": "rule", "color": "#333", "strokeWidth": 1}, "encoding": {"x": {"datum": 1978, "type": "quantitative", "axis": null}}},
 {"data": {"values": [{}]}, "mark": {"type": "text", "align": "left", "baseline": "middle", "fontSize": 13, "color": "#333"}, "encoding": {"x": {"datum": 1963.3, "type": "quantitative", "axis": null}, "y": {"datum": 205, "type": "quantitative", "axis": {"title": null}}, "text": {"value": "Q Model"}}}
]},
{"width": 481, "height": 235, "layer": [
 {"data": {"name": "s4"}, "mark": {"type": "line", "strokeWidth": 2}, "encoding": {"x": {"field": "t", "type": "quantitative", "scale": {"domain": [1962, 1992.1], "nice": false, "zero": false}, "axis": null}, "y": {"field": "v", "type": "quantitative", "scale": {"domain": [60, 220], "nice": false, "zero": false}, "axis": {"title": null, "values": [60,100,140,180,220], "gridOpacity": {"condition": {"test": "datum.value === 60 || datum.value === 220", "value": 0}, "value": 1}}}, "color": {"datum": "Fitted with Survey Data", "type": "nominal", "legend": {"title": null}}}},
 {"data": {"name": "f4"}, "mark": {"type": "line", "strokeWidth": 2.5}, "encoding": {"x": {"field": "t", "type": "quantitative", "axis": null}, "y": {"field": "v", "type": "quantitative", "axis": {"title": null}}, "color": {"datum": "Fitted", "type": "nominal", "legend": {"title": null}}}},
 {"data": {"name": "a"}, "mark": {"type": "line", "strokeWidth": 3.5}, "encoding": {"x": {"field": "t", "type": "quantitative", "axis": null}, "y": {"field": "v", "type": "quantitative", "axis": {"title": null}}, "color": {"datum": "Actual", "type": "nominal", "legend": {"title": null}}}},
 {"data": {"name": "a"}, "mark": {"type": "line", "strokeWidth": 1, "color": "#dcdcdc"}, "encoding": {"x": {"field": "t", "type": "quantitative", "axis": null}, "y": {"field": "v", "type": "quantitative", "axis": {"title": null}}}},
 {"data": {"name": "i4"}, "mark": {"type": "line", "strokeWidth": 2.5}, "encoding": {"x": {"field": "t", "type": "quantitative", "axis": null}, "y": {"field": "v", "type": "quantitative", "axis": {"title": null}}, "color": {"datum": "Fitted with Investment in Structures", "type": "nominal", "legend": {"title": null}}}},
 {"data": {"values": [{}]}, "mark": {"type": "rule", "color": "#333", "strokeWidth": 1}, "encoding": {"x": {"datum": 1978, "type": "quantitative", "axis": null}}},
 {"data": {"values": [{}]}, "mark": {"type": "text", "align": "left", "baseline": "middle", "fontSize": 13, "color": "#333"}, "encoding": {"x": {"datum": 1963.3, "type": "quantitative", "axis": null}, "y": {"datum": 203, "type": "quantitative", "axis": {"title": null}}, "text": {"value": "Cash Flow Model"}}}
]},
{"width": 481, "height": 235, "layer": [
 {"data": {"name": "s5"}, "mark": {"type": "line", "strokeWidth": 2}, "encoding": {"x": {"field": "t", "type": "quantitative", "scale": {"domain": [1962, 1992.1], "nice": false, "zero": false}, "axis": {"title": null, "values": [1962,1966,1970,1974,1978,1982,1986,1990], "labelExpr": "datum.value + '.I'", "grid": false, "domain": false, "ticks": true, "tickSize": -6, "tickColor": "#333", "tickWidth": 1.2, "labelFlush": false, "labelOverlap": false, "labelFontSize": 13, "labelColor": "#333", "labelPadding": 17}}, "y": {"field": "v", "type": "quantitative", "scale": {"domain": [60, 220], "nice": false, "zero": false}, "axis": {"title": null, "values": [60,100,140,180,220], "gridOpacity": {"condition": {"test": "datum.value === 60 || datum.value === 220", "value": 0}, "value": 1}}}, "color": {"datum": "Fitted with Survey Data", "type": "nominal", "legend": {"title": null}}}},
 {"data": {"name": "f5"}, "mark": {"type": "line", "strokeWidth": 2.5}, "encoding": {"x": {"field": "t", "type": "quantitative", "axis": {"title": null}}, "y": {"field": "v", "type": "quantitative", "axis": {"title": null}}, "color": {"datum": "Fitted", "type": "nominal", "legend": {"title": null}}}},
 {"data": {"name": "a"}, "mark": {"type": "line", "strokeWidth": 3.5}, "encoding": {"x": {"field": "t", "type": "quantitative", "axis": {"title": null}}, "y": {"field": "v", "type": "quantitative", "axis": {"title": null}}, "color": {"datum": "Actual", "type": "nominal", "legend": {"title": null}}}},
 {"data": {"name": "a"}, "mark": {"type": "line", "strokeWidth": 1, "color": "#dcdcdc"}, "encoding": {"x": {"field": "t", "type": "quantitative", "axis": {"title": null}}, "y": {"field": "v", "type": "quantitative", "axis": {"title": null}}}},
 {"data": {"name": "i5"}, "mark": {"type": "line", "strokeWidth": 2.5}, "encoding": {"x": {"field": "t", "type": "quantitative", "axis": {"title": null}}, "y": {"field": "v", "type": "quantitative", "axis": {"title": null}}, "color": {"datum": "Fitted with Investment in Structures", "type": "nominal", "legend": {"title": null}}}},
 {"data": {"values": [{}]}, "mark": {"type": "rule", "color": "#333", "strokeWidth": 1}, "encoding": {"x": {"datum": 1978, "type": "quantitative", "axis": {"title": null}}}},
 {"data": {"values": [{}]}, "mark": {"type": "text", "align": "left", "baseline": "middle", "fontSize": 13, "color": "#333"}, "encoding": {"x": {"datum": 1963.3, "type": "quantitative", "axis": {"title": null}}, "y": {"datum": 207, "type": "quantitative", "axis": {"title": null}}, "text": {"value": "Autoregression Model"}}},
 {"data": {"values": [{}]}, "mark": {"type": "text", "align": "left", "baseline": "middle", "fontSize": 11, "font": "Liberation Mono", "color": "#444"}, "encoding": {"x": {"datum": 1963.3, "type": "quantitative", "axis": {"title": null}}, "y": {"datum": 192.5, "type": "quantitative", "axis": {"title": null}}, "text": {"value": "with output adjustment"}}}
]}
]
}
